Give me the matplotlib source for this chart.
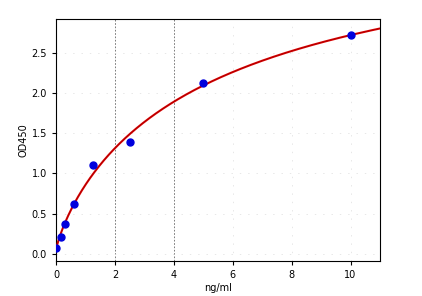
import numpy as np
import matplotlib
matplotlib.use('Agg')
import matplotlib.pyplot as plt

# standard concentrations (ng/ml) and measured OD450
conc = [0.0, 0.156, 0.3125, 0.625, 1.25, 2.5, 5.0, 10.0]
od = [0.07, 0.21, 0.37, 0.62, 1.10, 1.39, 2.12, 2.72]

x = np.array(conc)
y = np.array(od)

# 4PL fit: y = d + (a-d)/(1+(x/c)^b), grid over b,c, linear solve for a,d
best = None
for b in np.linspace(0.5, 1.5, 101):
    for c in np.linspace(1, 20, 191):
        g = 1.0 / (1.0 + (x / c) ** b)
        A = np.column_stack([g, 1 - g])
        coef, res, _, _ = np.linalg.lstsq(A, y, rcond=None)
        err = np.sum((A @ coef - y) ** 2)
        if best is None or err < best[0]:
            best = (err, b, c, coef)
_, b, c, (a, d) = best

xs = np.linspace(0, 11, 400)
ys = d + (a - d) / (1.0 + (xs / c) ** b)

fig = plt.figure(figsize=(4.22, 2.96), dpi=100)
ax = fig.add_axes([56/422, 35/296, 324/422, 242/296])

ax.plot(xs, ys, color='#e00000', lw=1.5, zorder=3)
ax.plot(xs, ys, color='#440000', lw=0.4, alpha=0.5, zorder=3)
ax.plot(x, y, 'o', color='#0000dd', markersize=5, zorder=4)

ax.set_xlim(0, 11)
ax.set_ylim(-0.09, 2.92)
ax.set_xticks([0, 2, 4, 6, 8, 10])
ax.set_yticks([0.0, 0.5, 1.0, 1.5, 2.0, 2.5])
ax.tick_params(labelsize=7, length=3)
ax.set_xlabel('ng/ml', fontsize=7, labelpad=2)
ax.set_ylabel('OD450', fontsize=7, labelpad=2)

ax.grid(True, linestyle=(0, (2, 10)), color='#dddddd', lw=0.5)
for i, gl in enumerate(ax.get_xgridlines()):
    if i in (1, 2):
        gl.set_color('#666666')
        gl.set_linestyle((0, (2, 2)))
        gl.set_linewidth(0.6)

fig.savefig('out.png', dpi=100)
